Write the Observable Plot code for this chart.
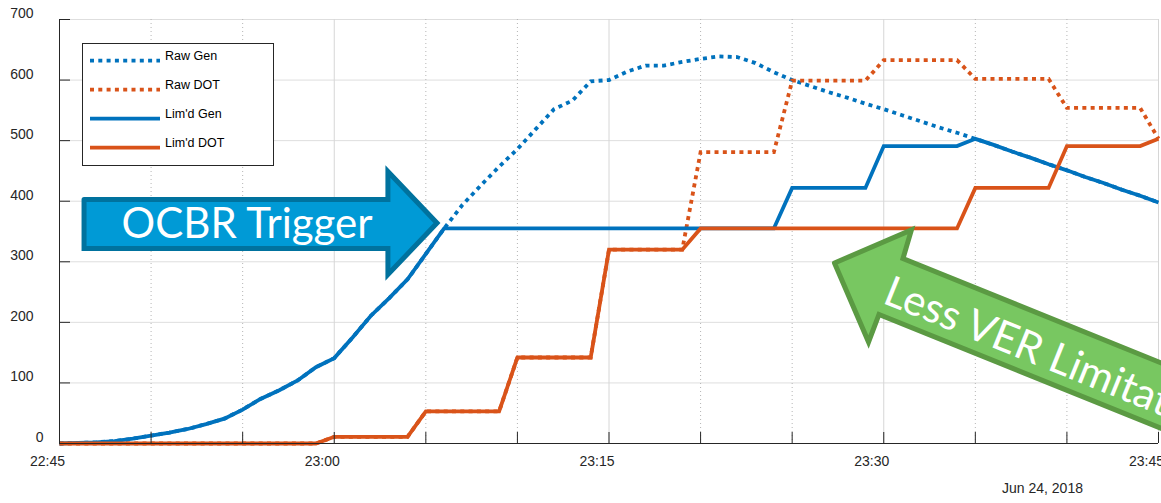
<!DOCTYPE html>
<html>
<head>
<meta charset="utf-8">
<script src="https://cdn.jsdelivr.net/npm/d3@7"></script>
<script src="https://cdn.jsdelivr.net/npm/@observablehq/plot@0.6"></script>
<style>
  html, body { margin: 0; padding: 0; background: #ffffff; }
  #wrap { position: relative; width: 1161px; height: 503px; overflow: hidden; background: #fff; }
  #legend { position: absolute; left: 82px; top: 43px; }
</style>
</head>
<body>
<div id="wrap"></div>
<script>
// ---------------- data (minutes after 22:45, Jun 24 2018; values in MW) ----------------
const minutes = [0,1,2,3,4,5,6,7,8,9,10,11,12,13,14,15,16,17,18,19,20,
  21,22,23,24,25,26,27,28,29,30,31,32,33,34,35,36,37,38,39,40,
  41,42,43,44,45,46,47,48,49,50,51,52,53,54,55,56,57,58,59,60];

const rawGen = [0,1,2,4,8,13,18,24,32,41,56,74,88,104,126,141,175,211,240,271,313,
  355,394,426,457,486,519,552,566,598,600,614,624,624,630,635,639,638,628,613,600,
  590,580,571,561,552,542,532,522,513,503,493,482,472,461,451,440,430,419,409,398];

const rawDot = [0,0,0,0,0,0,0,0,0,0,0,0,0,0,0,11,11,11,11,11,53,
  53,53,53,53,142,142,142,142,142,320,320,320,320,320,481,481,481,481,481,599,
  599,599,599,599,633,633,633,633,633,602,602,602,602,602,554,554,554,554,554,503];

const limGen = [0,1,2,4,8,13,18,24,32,41,56,74,88,104,126,141,175,211,240,271,313,
  355,355,355,355,355,355,355,355,355,355,355,355,355,355,355,355,355,355,355,422,
  422,422,422,422,491,491,491,491,491,503,493,482,472,461,451,440,430,419,409,398];

const limDot = [0,0,0,0,0,0,0,0,0,0,0,0,0,0,0,11,11,11,11,11,53,
  53,53,53,53,142,142,142,142,142,320,320,320,320,320,355,355,355,355,355,355,
  355,355,355,355,355,355,355,355,355,422,422,422,422,422,491,491,491,491,491,503];

const seriesNames = ["Raw Gen", "Raw DOT", "Lim'd Gen", "Lim'd DOT"];
const seriesColors = ["#0072BD", "#D95319", "#0072BD", "#D95319"];

const yTicks = [0, 100, 200, 300, 400, 500, 600, 700];
const xLabelTimes = ["22:45", "23:00", "23:15", "23:30", "23:45"];
const xMajorGrid = ["23:00", "23:15", "23:30", "23:45"];
const xMinorGrid = ["22:50", "22:55", "23:05", "23:10", "23:20", "23:25", "23:35", "23:40"];
const xTickTimes = ["22:50", "22:55", "23:00", "23:05", "23:10", "23:15", "23:20",
  "23:25", "23:30", "23:35", "23:40", "23:45"];
const dateLabel = "Jun 24, 2018";
const dateLabelTime = "23:38:40";

// annotation arrows (minutes after 22:45, MW)
const ocbrArrowT = [1.34, 17.93, 17.93, 20.61, 17.93, 17.93, 1.34, 1.34];
const ocbrArrowV = [402.8, 402.8, 449.1, 364.0, 279.0, 321.9, 321.9, 402.8];
const ocbrText = "OCBR Trigger";
const ocbrTextT = 10.24, ocbrTextV = 361.6;

const verArrowT = [42.31, 46.51, 46.05, 67.75, 67.75, 44.74, 44.17, 42.31];
const verArrowV = [298.0, 352.5, 305.4, 40.0, -67.7, 213.0, 167.6, 298.0];
const verText = "Less VER Limitation";
const verTextT = 45.14, verTextV = 253.3;

// ---------------- helpers ----------------
const base = Date.UTC(2018, 5, 24, 22, 45);
const atMin = m => new Date(base + m * 60000);
const atClock = s => new Date(`2018-06-24T${s.length === 5 ? s + ":00" : s}Z`);

const allSeries = [rawGen, rawDot, limGen, limDot];
const rows = [];
allSeries.forEach((vals, i) => {
  minutes.forEach((m, j) => rows.push({series: seriesNames[i], time: atMin(m), value: vals[j]}));
});
const rowsOf = name => rows.filter(r => r.series === name);

const ocbrPoly = ocbrArrowT.map((t, i) => ({time: atMin(t), value: ocbrArrowV[i]}));
const verPoly = verArrowT.map((t, i) => ({time: atMin(t), value: verArrowV[i]}));

const W = 1161, H = 503, ML = 59, MR = 3, MT = 19, MB = 60;
const frameW = W - ML - MR, frameH = H - MT - MB;
const axisColor = "#262626";

const lineStyle = (name, i, dotted) => Plot.line(rowsOf(name), {
  x: "time", y: "value", stroke: seriesColors[i], strokeWidth: 3.8,
  strokeLinejoin: "miter", strokeMiterlimit: 4,
  strokeLinecap: "butt",
  strokeDasharray: dotted ? "4,4.3" : null
});

const chart = Plot.plot({
  width: W, height: H,
  marginLeft: ML, marginRight: MR, marginTop: MT, marginBottom: MB,
  style: {fontFamily: "'Liberation Sans', Arial, Helvetica, sans-serif", fontSize: "14px", color: axisColor, background: "#ffffff", overflow: "hidden"},
  x: {type: "utc", domain: [atClock("22:45"), atClock("23:45")]},
  y: {domain: [0, 700]},
  marks: [
    Plot.ruleY(yTicks, {y: d => d, stroke: "#dedede", strokeWidth: 1}),
    Plot.ruleX(xMinorGrid.map(atClock), {x: d => d, stroke: "#b5b5b5", strokeWidth: 1, strokeDasharray: "1,3"}),
    Plot.ruleX(xMajorGrid.map(atClock), {x: d => d, stroke: "#d6d6d6", strokeWidth: 1}),
    lineStyle("Raw Gen", 0, true),
    lineStyle("Raw DOT", 1, true),
    lineStyle("Lim'd Gen", 2, false),
    lineStyle("Lim'd DOT", 3, false),
    Plot.ruleX([atClock("22:45")], {x: d => d, stroke: axisColor, strokeWidth: 1}),
    Plot.ruleY([0], {y: d => d, stroke: axisColor, strokeWidth: 1}),
    Plot.tickY(yTicks.slice(1), {y: d => d, insetRight: frameW - 11, stroke: axisColor, strokeWidth: 1}),
    Plot.tickX(xTickTimes.map(atClock), {x: d => d, insetTop: frameH - 11, stroke: axisColor, strokeWidth: 1}),
    Plot.axisY(yTicks.slice(1), {tickSize: 0, tickPadding: 26, dy: -6, label: null, fontSize: 14}),
    Plot.axisY([0], {tickSize: 0, tickPadding: 16, dy: -6, label: null, fontSize: 14}),
    Plot.axisX(xLabelTimes.map(atClock), {tickSize: 0, tickPadding: 13, dx: -12, label: null, fontSize: 14,
      tickFormat: d3.utcFormat("%H:%M")}),
    Plot.text([dateLabel], {x: () => atClock(dateLabelTime), frameAnchor: "bottom", dy: 49, text: d => d, fontSize: 14, fill: axisColor}),
    // OCBR arrow
    Plot.line(ocbrPoly, {x: "time", y: "value", fill: "#009AD6", stroke: "#00729E", strokeWidth: 5,
      strokeLinejoin: "miter", strokeMiterlimit: 6, curve: "linear"}),
    Plot.text([ocbrText], {x: () => atMin(ocbrTextT), y: () => ocbrTextV, text: d => d,
      fill: "#ffffff", fontSize: 42, fontFamily: "Lato, 'Open Sans', sans-serif", textAnchor: "middle", lineAnchor: "middle"}),
    // Less VER arrow
    Plot.line(verPoly, {x: "time", y: "value", fill: "#78C761", stroke: "#5B9A43", strokeWidth: 5,
      strokeLinejoin: "miter", strokeMiterlimit: 6, curve: "linear"}),
    Plot.text([verText], {x: () => atMin(verTextT), y: () => verTextV, text: d => d, rotate: 22,
      fill: "#ffffff", fontSize: 42, fontFamily: "Lato, 'Open Sans', sans-serif", textAnchor: "start", lineAnchor: "middle"})
  ]
});

const wrap = document.getElementById("wrap");
wrap.appendChild(chart);

// ---------------- legend (overlay inside the axes) ----------------
const ns = "http://www.w3.org/2000/svg";
const leg = document.createElementNS(ns, "svg");
leg.setAttribute("id", "legend");
leg.setAttribute("width", 192);
leg.setAttribute("height", 124);
const box = document.createElementNS(ns, "rect");
box.setAttribute("x", 0.5); box.setAttribute("y", 0.5);
box.setAttribute("width", 191); box.setAttribute("height", 122);
box.setAttribute("fill", "#ffffff"); box.setAttribute("stroke", "#262626"); box.setAttribute("stroke-width", 1);
leg.appendChild(box);
seriesNames.forEach((name, i) => {
  const ly = 17.7 + i * 29;
  const ln = document.createElementNS(ns, "line");
  ln.setAttribute("x1", 8); ln.setAttribute("x2", 78);
  ln.setAttribute("y1", ly); ln.setAttribute("y2", ly);
  ln.setAttribute("stroke", seriesColors[i]);
  ln.setAttribute("stroke-width", 3.8);
  if (i < 2) ln.setAttribute("stroke-dasharray", "4,4.3");
  leg.appendChild(ln);
  const tx = document.createElementNS(ns, "text");
  tx.setAttribute("x", 83);
  tx.setAttribute("y", ly - 5);
  tx.setAttribute("dy", "0.35em");
  tx.setAttribute("font-family", "'Liberation Sans', Arial, sans-serif");
  tx.setAttribute("font-size", "12.5px");
  tx.setAttribute("fill", "#000000");
  tx.textContent = name;
  leg.appendChild(tx);
});
wrap.appendChild(leg);
</script>
</body>
</html>
